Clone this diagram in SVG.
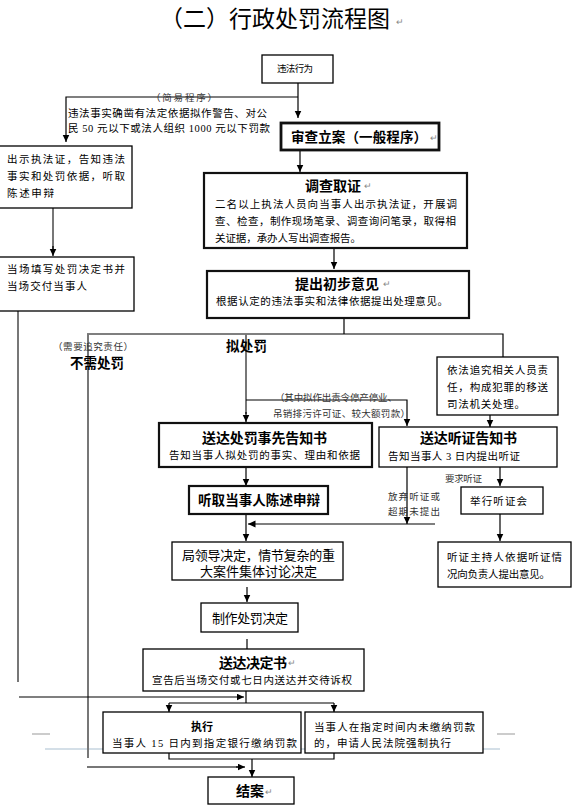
<svg xmlns="http://www.w3.org/2000/svg" width="577" height="809" viewBox="0 0 577 809">
<defs>
<marker id="ar" markerUnits="userSpaceOnUse" markerWidth="8" markerHeight="8" refX="7.5" refY="3.5" orient="auto">
<path d="M0,0 L7.5,3.5 L0,7 z" fill="#000"/>
</marker>
</defs>
<style>
text{font-family:"Liberation Serif","Noto Sans CJK SC",sans-serif;fill:#000;}
.t{font-size:10.5px;}
.s{font-size:9.5px;fill:#333;}
.m{font-size:13px;}
.h{font-size:14px;font-weight:bold;}
.c{text-anchor:middle;}
.pm{font-size:9px;fill:#888;}
.b1{fill:#fff;stroke:#000;stroke-width:1.3;}
.b2{fill:#fff;stroke:#111;stroke-width:2.2;}
.ln{fill:none;stroke:#000;stroke-width:1.2;}
.lg{fill:none;stroke:#777;stroke-width:2;}
.la{marker-end:url(#ar);}
</style>
<rect width="577" height="809" fill="#fff"/>
<g id="decor">
<line x1="45" y1="749" x2="500" y2="749" stroke="#a9bfd0" stroke-width="1"/>
<line x1="32" y1="734" x2="50" y2="734" stroke="#999" stroke-width="1"/>
<line x1="497" y1="734" x2="515" y2="734" stroke="#999" stroke-width="1"/>
</g>
<g id="title">
<text x="160" y="27" style="font-size:23px;font-family:'Noto Sans CJK SC',sans-serif" textLength="230">（二）行政处罚流程图</text>
<text x="396" y="25" class="pm">↵</text>
</g>
<g id="connectors">
<line class="ln la" x1="298" y1="83" x2="298" y2="118"/>
<polyline class="ln la" points="298,97 66,97 66,142"/>
<line class="ln la" x1="300" y1="150" x2="300" y2="172"/>
<line class="ln la" x1="334" y1="248" x2="334" y2="269"/>
<line class="ln" x1="344" y1="318" x2="344" y2="334"/>
<polyline class="ln" points="87,334 503,334 503,357"/>
<line class="lg" x1="246" y1="334" x2="246" y2="414"/>
<line class="ln la" x1="246" y1="412" x2="246" y2="422"/>
<line class="lg" x1="88" y1="334" x2="88" y2="758"/>
<polyline class="ln la" points="246,400 407,400 407,426"/>
<line class="ln la" x1="490" y1="415" x2="490" y2="427"/>
<line class="ln la" x1="246" y1="467" x2="246" y2="486"/>
<line class="ln la" x1="246" y1="514" x2="246" y2="541"/>
<line class="ln la" x1="435" y1="524" x2="248" y2="524"/>
<line class="ln la" x1="407" y1="467" x2="407" y2="524"/>
<line class="ln la" x1="500" y1="467" x2="500" y2="486"/>
<line class="ln la" x1="500" y1="514" x2="500" y2="541"/>
<line class="ln la" x1="247" y1="587" x2="247" y2="602"/>
<line class="ln" x1="247" y1="639" x2="247" y2="649"/>
<line class="lg" x1="53" y1="208" x2="53" y2="250"/>
<line class="ln la" x1="53" y1="246" x2="53" y2="256"/>
<line class="lg" x1="18" y1="311" x2="18" y2="682"/>
<line class="ln la" x1="19" y1="697" x2="244" y2="697"/>
<line class="ln" x1="246" y1="691" x2="246" y2="703"/>
<line class="ln" x1="169" y1="703" x2="334" y2="703"/>
<line class="ln la" x1="169" y1="703" x2="169" y2="712"/>
<line class="ln la" x1="334" y1="703" x2="334" y2="712"/>
<polyline class="ln" points="169,753 169,759 334,759 334,753"/>
<line class="ln la" x1="252" y1="759" x2="252" y2="777"/>
<line class="lg" x1="87" y1="767" x2="240" y2="767"/>
<line class="ln la" x1="236" y1="767" x2="245" y2="767"/>
</g>
<g id="labels">
<text x="151" y="101" class="s" textLength="66">（简易程序）</text>
<text x="68" y="117" class="t" textLength="199">违法事实确凿有法定依据拟作警告、对公</text>
<text x="68" y="132" class="t" textLength="202">民 50 元以下或法人组织 1000 元以下罚款</text>
<text x="53" y="350" class="s" textLength="80">（需要追究责任）</text>
<text x="70" y="368" style="font-size:13.5px;font-weight:bold" textLength="54">不需处罚</text>
<text x="226" y="351" style="font-size:13.5px;font-weight:bold" textLength="41">拟处罚</text>
<text x="275" y="401" class="s" textLength="122">（其中拟作出责令停产停业、</text>
<text x="273" y="417" class="s" textLength="137">吊销排污许可证、较大额罚款）</text>
<text x="388" y="500" class="s" textLength="52">放弃听证或</text>
<text x="388" y="515" class="s" textLength="52">超期未提出</text>
<text x="445" y="482" class="s" textLength="37">要求听证</text>
</g>
<g id="n-weifa">
<rect class="b1" x="262" y="55" width="71" height="28"/>
<text x="277" y="72" style="font-size:9.5px" textLength="36">违法行为</text>
</g>
<g id="n-shencha">
<rect x="281" y="123" width="158" height="27" fill="#fff" stroke="#111" stroke-width="2.8"/>
<text x="291" y="142" style="font-size:13.5px;font-weight:bold" textLength="136">审查立案（一般程序）</text>
<text x="430" y="141" class="pm">↵</text>
</g>
<g id="n-chushi">
<rect class="b1" x="-1" y="146" width="133" height="62"/>
<text x="7" y="163" class="t" textLength="118">出示执法证，告知违法</text>
<text x="7" y="180" class="t" textLength="118">事实和处罚依据，听取</text>
<text x="7" y="197" class="t" textLength="47">陈述申辩</text>
</g>
<g id="n-dangchang">
<rect class="b1" x="-1" y="257" width="135" height="54"/>
<text x="7" y="273" class="t" textLength="118">当场填写处罚决定书并</text>
<text x="7" y="290" class="t" textLength="80">当场交付当事人</text>
</g>
<g id="n-diaocha">
<rect class="b2" x="204" y="173" width="263" height="75"/>
<text x="333" y="191" class="h c">调查取证</text>
<text x="364" y="189" class="pm">↵</text>
<text x="215" y="208" class="t" textLength="242">二名以上执法人员向当事人出示执法证，开展调</text>
<text x="215" y="225" class="t" textLength="241">查、检查，制作现场笔录、调查询问笔录，取得相</text>
<text x="215" y="242" class="t" textLength="146">关证据，承办人写出调查报告。</text>
</g>
<g id="n-tichu">
<rect class="b2" x="207" y="271" width="262" height="47"/>
<text x="337" y="289" class="h c">提出初步意见</text>
<text x="383" y="287" class="pm">↵</text>
<text x="216" y="305" class="t" textLength="232">根据认定的违法事实和法律依据提出处理意见。</text>
</g>
<g id="n-zhuijiu">
<rect class="b1" x="437" y="357" width="121" height="58"/>
<text x="447" y="374" class="t" textLength="101">依法追究相关人员责</text>
<text x="447" y="391" class="t" textLength="101">任，构成犯罪的移送</text>
<text x="447" y="408" class="t" textLength="78">司法机关处理。</text>
</g>
<g id="n-shixian">
<rect class="b2" x="159" y="423" width="213" height="44"/>
<text x="202" y="443" class="h" textLength="125">送达处罚事先告知书</text>
<text x="169" y="459" class="t" textLength="191">告知当事人拟处罚的事实、理由和依据</text>
</g>
<g id="n-tingzheng">
<rect class="b1" x="379" y="427" width="178" height="40"/>
<text x="420" y="443" class="h" textLength="97">送达听证告知书</text>
<text x="388" y="460" class="t" textLength="132">告知当事人 3 日内提出听证</text>
</g>
<g id="n-tingqu">
<rect class="b2" x="189" y="486" width="139" height="28"/>
<text x="198" y="505" style="font-size:13.5px;font-weight:bold" textLength="122">听取当事人陈述申辩</text>
</g>
<g id="n-juxing">
<rect class="b1" x="461" y="487" width="82" height="27"/>
<text x="470" y="505" class="t" textLength="57">举行听证会</text>
</g>
<g id="n-zhuchi">
<rect class="b1" x="438" y="542" width="133" height="45"/>
<text x="447" y="561" class="t" textLength="115">听证主持人依据听证情</text>
<text x="447" y="578" class="t" textLength="103">况向负责人提出意见。</text>
</g>
<g id="n-juedingju">
<rect class="b1" x="172" y="542" width="171" height="38"/>
<text x="182" y="560" class="m" textLength="153">局领导决定，情节复杂的重</text>
<text x="200" y="576" class="m" textLength="117">大案件集体讨论决定</text>
</g>
<g id="n-zhizuo">
<rect class="b1" x="201" y="603" width="97" height="29"/>
<text x="212" y="623" class="m" textLength="76">制作处罚决定</text>
</g>
<g id="n-songda">
<rect class="b1" x="143" y="649" width="221" height="42"/>
<text x="219" y="668" class="h" textLength="68">送达决定书</text>
<text x="288" y="666" class="pm">↵</text>
<text x="152" y="684" class="t" textLength="200">宣告后当场交付或七日内送达并交待诉权</text>
</g>
<g id="n-zhixing">
<rect class="b1" x="103" y="712" width="198" height="41"/>
<text x="202" y="731" class="c" style="font-size:11px;font-weight:bold">执行</text>
<text x="112" y="747" class="t" textLength="185">当事人 15 日内到指定银行缴纳罚款</text>
</g>
<g id="n-qiangzhi">
<rect class="b1" x="305" y="712" width="178" height="41"/>
<text x="314" y="731" class="t" textLength="161">当事人在指定时间内未缴纳罚款</text>
<text x="314" y="747" class="t" textLength="137">的，申请人民法院强制执行</text>
</g>
<g id="n-jiean">
<rect class="b1" x="208" y="777" width="86" height="27"/>
<text x="236" y="796" class="h" textLength="28">结案</text>
<text x="265" y="795" class="pm">↵</text>
</g>
</svg>
